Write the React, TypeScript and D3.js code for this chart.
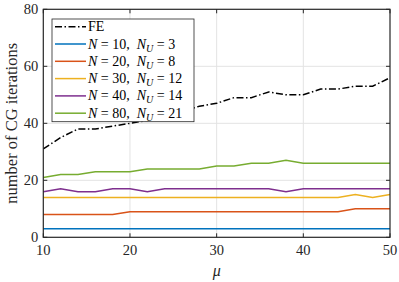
import React from 'react'
import * as d3 from 'd3'

// mu values on the x axis
const mu = [10, 12, 14, 16, 18, 20, 22, 24, 26, 28, 30, 32, 34, 36, 38, 40, 42, 44, 46, 48, 50]

// CG iteration counts, one array per curve
const fe = [31, 35, 38, 38, 39, 40, 41, 43, 44, 46, 47, 49, 49, 51, 50, 50, 52, 52, 53, 53, 56]
const n10 = [3, 3, 3, 3, 3, 3, 3, 3, 3, 3, 3, 3, 3, 3, 3, 3, 3, 3, 3, 3, 3]
const n20 = [8, 8, 8, 8, 8, 9, 9, 9, 9, 9, 9, 9, 9, 9, 9, 9, 9, 9, 10, 10, 10]
const n30 = [14, 14, 14, 14, 14, 14, 14, 14, 14, 14, 14, 14, 14, 14, 14, 14, 14, 14, 15, 14, 15]
const n40 = [16, 17, 16, 16, 17, 17, 16, 17, 17, 17, 17, 17, 17, 17, 16, 17, 17, 17, 17, 17, 17]
const n80 = [21, 22, 22, 23, 23, 23, 24, 24, 24, 24, 25, 25, 26, 26, 27, 26, 26, 26, 26, 26, 26]

const xTicks = [10, 20, 30, 40, 50]
const yTicks = [0, 20, 40, 60, 80]

const series = [
  { n: 10, nu: 3, values: n10, color: '#0072BD' },
  { n: 20, nu: 8, values: n20, color: '#D95319' },
  { n: 30, nu: 12, values: n30, color: '#EDB120' },
  { n: 40, nu: 14, values: n40, color: '#7E2F8E' },
  { n: 80, nu: 21, values: n80, color: '#77AC30' },
]

const W = 399
const H = 282
const left = 43.3
const right = 390
const top = 9.3
const bottom = 237.3
const font = '"Liberation Serif", "DejaVu Serif", serif'

export default function App() {
  const x = d3.scaleLinear().domain([10, 50]).range([left, right])
  const y = d3.scaleLinear().domain([0, 80]).range([bottom, top])
  const line = (vals: number[]) =>
    d3.line<number>().x((_, i) => x(mu[i])).y((d) => y(d))(vals) || ''

  const lgX = 52
  const lgY = 19
  const lgW = 142
  const lgH = 102.7
  const rowY = (i: number) => lgY + 7.7 + i * 17.3

  return (
    <svg width={W} height={H} style={{ position: 'absolute', left: 0, top: 0 }} fontFamily={font}>
      <rect x={0} y={0} width={W} height={H} fill="#fff" />
      {/* grid */}
      {xTicks.slice(1, -1).map((t) => (
        <line key={'gx' + t} x1={x(t)} x2={x(t)} y1={top} y2={bottom} stroke="#e3e3e3" strokeWidth={1} />
      ))}
      {yTicks.slice(1, -1).map((t) => (
        <line key={'gy' + t} x1={left} x2={right} y1={y(t)} y2={y(t)} stroke="#e3e3e3" strokeWidth={1} />
      ))}
      {/* curves */}
      {series.map((s) => (
        <path key={s.n} d={line(s.values)} fill="none" stroke={s.color} strokeWidth={1.5} />
      ))}
      <path d={line(fe)} fill="none" stroke="#000" strokeWidth={1.5} strokeDasharray="7,2.5,1.5,2.5" />
      {/* axes box and ticks */}
      <rect x={left} y={top} width={right - left} height={bottom - top} fill="none" stroke="#262626" strokeWidth={1.2} />
      {xTicks.map((t) => (
        <g key={'tx' + t}>
          <line x1={x(t)} x2={x(t)} y1={bottom} y2={bottom - 4} stroke="#262626" />
          <line x1={x(t)} x2={x(t)} y1={top} y2={top + 4} stroke="#262626" />
          <text x={x(t)} y={bottom + 18} textAnchor="middle" fontSize={14.5} fill="#262626">{t}</text>
        </g>
      ))}
      {yTicks.map((t) => (
        <g key={'ty' + t}>
          <line x1={left} x2={left + 4} y1={y(t)} y2={y(t)} stroke="#262626" />
          <line x1={right} x2={right - 4} y1={y(t)} y2={y(t)} stroke="#262626" />
          <text x={left - 5} y={y(t) + 5} textAnchor="end" fontSize={14.5} fill="#262626">{t}</text>
        </g>
      ))}
      <text x={(left + right) / 2} y={276} textAnchor="middle" fontSize={16} fontStyle="italic" fill="#262626">μ</text>
      <text transform={`translate(17,${(top + bottom) / 2}) rotate(-90)`} textAnchor="middle" fontSize={16.5} fill="#262626">
        number of CG iterations
      </text>
      {/* legend */}
      <rect x={lgX} y={lgY} width={lgW} height={lgH} fill="#fff" stroke="#262626" strokeWidth={0.8} />
      <line x1={lgX + 3} x2={lgX + 34} y1={rowY(0)} y2={rowY(0)} stroke="#000" strokeWidth={1.5} strokeDasharray="7,2.5,1.5,2.5" />
      <text x={lgX + 36} y={rowY(0) + 4.5} fontSize={14} fill="#000">FE</text>
      {series.map((s, i) => (
        <g key={'lg' + s.n}>
          <line x1={lgX + 3} x2={lgX + 34} y1={rowY(i + 1)} y2={rowY(i + 1)} stroke={s.color} strokeWidth={1.5} />
          <text x={lgX + 36} y={rowY(i + 1) + 4.5} fontSize={14} fill="#000">
            <tspan fontStyle="italic">N</tspan>
            <tspan>{`\u00a0=\u00a0${s.n},\u00a0\u00a0`}</tspan>
            <tspan fontStyle="italic">N</tspan>
            <tspan fontStyle="italic" fontSize={10} dy={3}>U</tspan>
            <tspan dy={-3}>{`\u00a0=\u00a0${s.nu}`}</tspan>
          </text>
        </g>
      ))}
    </svg>
  )
}
